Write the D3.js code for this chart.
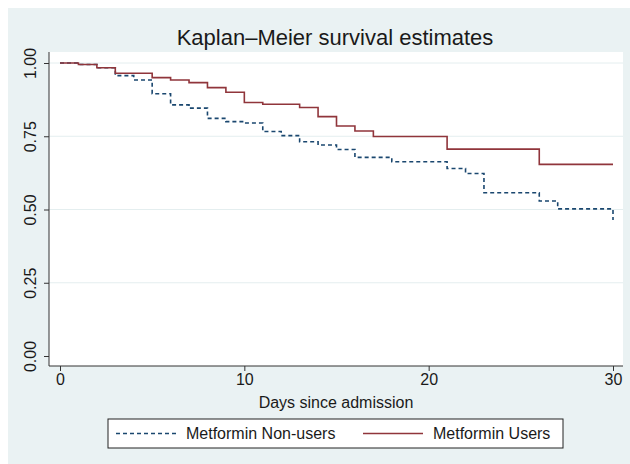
<!DOCTYPE html>
<html>
<head>
<meta charset="utf-8">
<script src="https://cdn.jsdelivr.net/npm/d3@7"></script>
<style>
  body { margin: 0; background: #fff; }
  text { font-family: "Liberation Sans", Arial, sans-serif; fill: #1a1a1a; }
</style>
</head>
<body>
<svg id="chart" width="630" height="464"></svg>
<script>
const width = 630;
const height = 464;

// plot geometry
const plot = { left: 49, right: 623, top: 52, bottom: 366 };

// data
const yTicks = [0, 0.25, 0.5, 0.75, 1];
const xTicks = [0, 10, 20, 30];

const nonUserDays = [0, 1, 2, 3, 4, 5, 6, 7, 8, 9, 10, 11, 12, 13, 14, 15, 16, 18, 21, 22, 23, 26, 27, 30];
const nonUserSurv = [1.00, 0.995, 0.984, 0.957, 0.942, 0.895, 0.857, 0.846, 0.811, 0.800, 0.795, 0.766, 0.752, 0.731, 0.720, 0.705, 0.678, 0.663, 0.640, 0.623, 0.557, 0.529, 0.502, 0.464];

const userDays = [0, 1, 2, 3, 5, 6, 7, 8, 9, 10, 11, 13, 14, 15, 16, 17, 21, 26, 30];
const userSurv = [1.00, 0.995, 0.984, 0.965, 0.950, 0.942, 0.933, 0.916, 0.900, 0.865, 0.859, 0.848, 0.817, 0.785, 0.768, 0.749, 0.706, 0.654, 0.654];

const seriesNames = ["Metformin Non-users", "Metformin Users"];
const colors = ["#1a476f", "#90353b"];
const dashes = ["4,3", null];

const svg = d3.select("#chart");

// graph region background
svg.append("rect")
  .attr("x", 8).attr("y", 8)
  .attr("width", width - 8).attr("height", 456)
  .attr("fill", "#eaf2f3");

svg.append("rect")
  .attr("x", plot.left).attr("y", plot.top)
  .attr("width", plot.right - plot.left).attr("height", plot.bottom - plot.top)
  .attr("fill", "#fff");

const x = d3.scaleLinear().domain([0, 30]).range([60, 613]);
const y = d3.scaleLinear().domain([0, 1]).range([356, 63]);

// grid
svg.append("g")
  .selectAll("line")
  .data(yTicks.filter(d => d > 0))
  .enter().append("line")
  .attr("x1", plot.left).attr("x2", plot.right)
  .attr("y1", d => y(d)).attr("y2", d => y(d))
  .attr("stroke", "#e4eeef").attr("stroke-width", 1);

// axes
const yAxis = svg.append("g")
  .attr("transform", `translate(${plot.left},0)`)
  .call(d3.axisLeft(y).tickValues(yTicks).tickSize(5).tickFormat(d3.format(".2f")));
yAxis.select(".domain").attr("d", `M0,${plot.top}V${plot.bottom}`);
yAxis.selectAll(".tick text")
  .attr("x", 0).attr("dy", 0)
  .attr("text-anchor", "middle")
  .attr("transform", "translate(-13,0) rotate(-90)")
  .style("font-size", "16px");

const xAxis = svg.append("g")
  .attr("transform", `translate(0,${plot.bottom})`)
  .call(d3.axisBottom(x).tickValues(xTicks).tickSize(5));
xAxis.select(".domain").attr("d", `M${plot.left},0H${plot.right}`);
xAxis.selectAll(".tick text").attr("y", 8).style("font-size", "16px");

svg.selectAll(".domain, .tick line").attr("stroke", "#333");
svg.selectAll(".tick text").attr("fill", "#1a1a1a").style("font-family", "'Liberation Sans', Arial, sans-serif");

// curves
const line = d3.line()
  .x(d => x(d[0]))
  .y(d => y(d[1]))
  .curve(d3.curveStepAfter);

const series = [
  d3.zip(nonUserDays, nonUserSurv),
  d3.zip(userDays, userSurv)
];

svg.append("g")
  .selectAll("path")
  .data(series)
  .enter().append("path")
  .attr("d", line)
  .attr("fill", "none")
  .attr("stroke", (d, i) => colors[i])
  .attr("stroke-width", 1.6)
  .attr("stroke-dasharray", (d, i) => dashes[i]);

// titles
svg.append("text")
  .attr("x", 335).attr("y", 45)
  .attr("text-anchor", "middle")
  .style("font-size", "22px")
  .text("Kaplan\u2013Meier survival estimates");

svg.append("text")
  .attr("x", 336).attr("y", 408)
  .attr("text-anchor", "middle")
  .style("font-size", "16px")
  .text("Days since admission");

// legend
const legend = svg.append("g");
legend.append("rect")
  .attr("x", 108).attr("y", 419)
  .attr("width", 455).attr("height", 29)
  .attr("fill", "#fff").attr("stroke", "#222").attr("stroke-width", 1);

const legendX = [116, 363];
seriesNames.forEach((name, i) => {
  legend.append("line")
    .attr("x1", legendX[i]).attr("x2", legendX[i] + 60)
    .attr("y1", 433.5).attr("y2", 433.5)
    .attr("stroke", colors[i]).attr("stroke-width", 1.3)
    .attr("stroke-dasharray", dashes[i]);
  legend.append("text")
    .attr("x", legendX[i] + 70).attr("y", 439)
    .style("font-size", "16px")
    .text(name);
});
</script>
</body>
</html>
